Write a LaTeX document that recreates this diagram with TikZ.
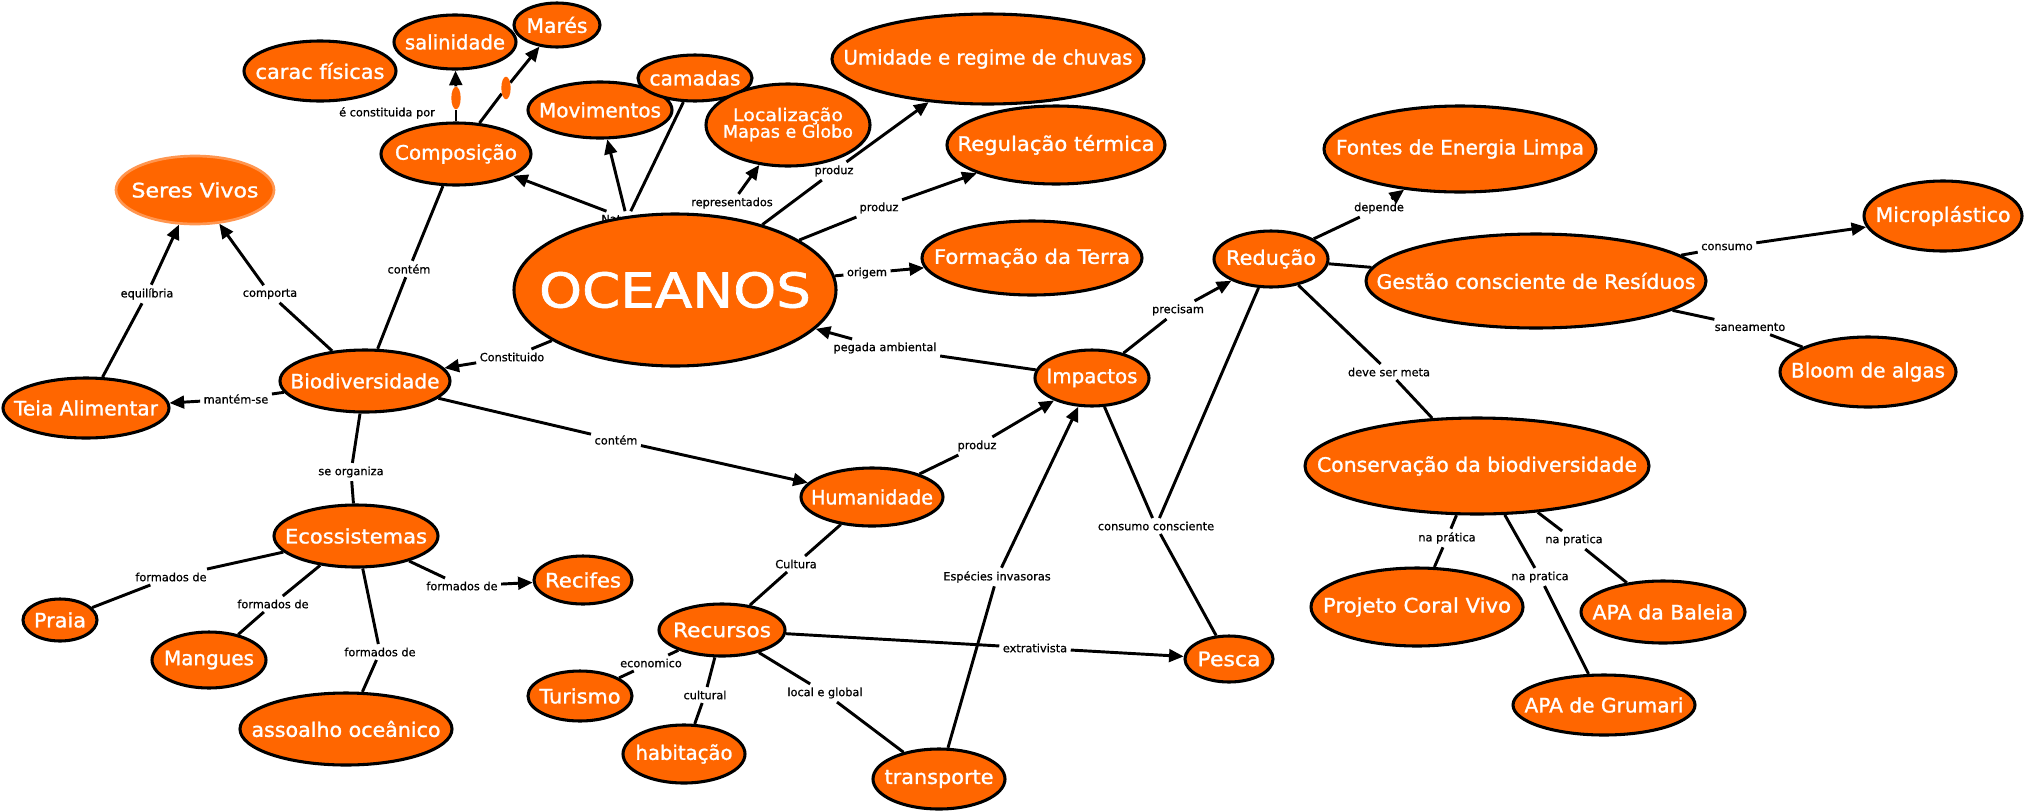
\documentclass[tikz,border=0pt]{standalone}
\usepackage{fontspec}
\setmainfont{DejaVu Sans}
\newfontfamily\nfont[BoldFont=DejaVu Sans, BoldFeatures={FakeBold=1.2}]{DejaVu Sans}
\newfontfamily\lfont[BoldFont=DejaVu Sans, BoldFeatures={FakeBold=0.8}]{DejaVu Sans}
\usetikzlibrary{shapes.geometric,arrows.meta}
\newlength\px \setlength\px{0.75pt}
\definecolor{orng}{RGB}{255,102,0}
\definecolor{lorng}{RGB}{255,150,80}
\newcommand\ctx[2]{\makebox[0pt]{\resizebox{#1\px}{\height}{#2}}}
\pgfdeclarelayer{back}
\pgfdeclarelayer{bg}
\pgfsetlayers{back,bg,main}
\begin{document}
\begin{tikzpicture}[x=0.75pt,y=-0.75pt,
  cn/.style n args={2}{ellipse, draw=black, line width=2.3pt, fill=orng, text=white,
    minimum width=#1*1.5pt-1.5pt, minimum height=#2*1.5pt-1.5pt, inner sep=0pt,
    font=\nfont\bfseries\fontsize{15}{18}\selectfont},
  lb/.style={font=\lfont\bfseries\fontsize{8.5}{10}\selectfont, inner sep=2.5pt, text=black},
  ln/.style={line width=2.2pt, draw=black},
  ar/.style={ln, -{Triangle[length=11pt,width=9.5pt]}},
  dot/.style={ellipse, fill=orng, minimum width=7pt, minimum height=17pt, inner sep=0pt}]
\begin{pgfonlayer}{back}
\fill[white] (0,0) rectangle (2027,811);
\end{pgfonlayer}
\useasboundingbox (0,0) rectangle (2027,811);
\begin{pgfonlayer}{bg}
\node[lb] (natu) at (627,219) {Natureza};
\end{pgfonlayer}
% concepts
\node[cn={77}{31}] (carac) at (320,71) {\ctx{129}{carac físicas}};
\node[cn={62}{28}] (sal) at (455,42) {\ctx{100}{salinidade}};
\node[cn={44}{23}] (mares) at (557,25) {\ctx{61}{Marés}};
\node[cn={76}{32}] (comp) at (456,154) {\ctx{122}{Composição}};
\node[cn={73}{29}] (mov) at (600,110) {\ctx{122}{Movimentos}};
\node[cn={58}{24}] (cam) at (695,78) {\ctx{91}{camadas}};
\node[cn={83}{42}] (loc) at (788,125) {\makebox[0pt]{\fontsize{13}{12}\selectfont\begin{tabular}{@{}c@{}}\resizebox{110\px}{\height}{Localização}\\[-1pt]\resizebox{130\px}{\height}{Mapas e Globo}\end{tabular}}};
\node[cn={157}{46}] (umid) at (988,59) {\ctx{289}{Umidade e regime de chuvas}};
\node[cn={110}{40}] (regul) at (1056,145) {\ctx{197}{Regulação térmica}};
\node[cn={162}{77}, font=\nfont\bfseries\fontsize{36}{40}\selectfont] (oce) at (675,290) {\ctx{272}{OCEANOS}};
\node[cn={111}{38}] (form) at (1032,258) {\ctx{196}{Formação da Terra}};
\node[cn={80}{35}, draw=lorng, line width=2pt] (seres) at (195,190) {\ctx{127}{Seres Vivos}};
\node[cn={84}{31}] (teia) at (86,408) {\ctx{144}{Teia Alimentar}};
\node[cn={86}{32}] (bio) at (365,381) {\ctx{149}{Biodiversidade}};
\node[cn={83}{32}] (eco) at (356,536) {\ctx{142}{Ecossistemas}};
\node[cn={38}{22}] (praia) at (60,620) {\ctx{52}{Praia}};
\node[cn={58}{29}] (mang) at (209,660) {\ctx{90}{Mangues}};
\node[cn={107}{37}] (assoa) at (346,729) {\ctx{189}{assoalho oceânico}};
\node[cn={50}{25}] (recif) at (583,580) {\ctx{76}{Recifes}};
\node[cn={53}{26}] (turis) at (580,696) {\ctx{81}{Turismo}};
\node[cn={64}{27}] (recur) at (722,630) {\ctx{98}{Recursos}};
\node[cn={62}{30}] (habit) at (684,754) {\ctx{97}{habitação}};
\node[cn={67}{31}] (transp) at (939,779) {\ctx{109}{transporte}};
\node[cn={72}{30}] (human) at (872,497) {\ctx{122}{Humanidade}};
\node[cn={58}{29}] (impac) at (1092,378) {\ctx{91}{Impactos}};
\node[cn={58}{29}] (reduc) at (1271,259) {\ctx{90}{Redução}};
\node[cn={137}{44}] (fontes) at (1460,149) {\ctx{248}{Fontes de Energia Limpa}};
\node[cn={171}{48}] (gestao) at (1536,281) {\ctx{319}{Gestão consciente de Resíduos}};
\node[cn={80}{36}] (micro) at (1943,216) {\ctx{135}{Microplástico}};
\node[cn={89}{36}] (bloom) at (1868,372) {\ctx{154}{Bloom de algas}};
\node[cn={173}{49}] (conserv) at (1477,466) {\ctx{320}{Conservação da biodiversidade}};
\node[cn={107}{40}] (coral) at (1417,607) {\ctx{188}{Projeto Coral Vivo}};
\node[cn={83}{32}] (baleia) at (1663,612) {\ctx{141}{APA da Baleia}};
\node[cn={92}{31}] (grumari) at (1604,705) {\ctx{159}{APA de Grumari}};
\node[cn={45}{24}] (pesca) at (1229,659) {\ctx{63}{Pesca}};
% empty link markers
\node[dot] (e1) at (456,98) {};
\node[dot] (e2) at (506,88) {};
% linking phrases
\node[lb] (econst) at (387,113) {é constituida por};
\node[lb] (repr) at (732,203) {representados};
\node[lb] (prod1) at (834,171) {produz};
\node[lb] (prod2) at (879,208) {produz};
\node[lb] (origem) at (867,273) {origem};
\node[lb] (pegada) at (885,348) {pegada ambiental};
\node[lb] (constit) at (512,357) {Constituido};
\node[lb] (contem1) at (409,269) {contém};
\node[lb] (comporta) at (270,294) {comporta};
\node[lb] (equil) at (147,294) {equilíbria};
\node[lb] (mantem) at (236,399) {mantém-se};
\node[lb] (seorg) at (351,472) {se organiza};
\node[lb] (contem2) at (616,440) {contém};
\node[lb] (fd1) at (171,577) {formados de};
\node[lb] (fd2) at (273,604) {formados de};
\node[lb] (fd3) at (380,652) {formados de};
\node[lb] (fd4) at (462,586) {formados de};
\node[lb] (prod3) at (977,446) {produz};
\node[lb] (cultura) at (796,564) {Cultura};
\node[lb] (econ) at (651,663) {economico};
\node[lb] (cultural) at (705,695) {cultural};
\node[lb] (localg) at (825,693) {local e global};
\node[lb] (extrat) at (1035,648) {extrativista};
\node[lb] (especies) at (997,577) {Espécies invasoras};
\node[lb] (precisam) at (1178,310) {precisam};
\node[lb] (consumoc) at (1156,526) {consumo consciente};
\node[lb] (depende) at (1379,208) {depende};
\node[lb] (consumo) at (1727,247) {consumo};
\node[lb] (saneam) at (1750,327) {saneamento};
\node[lb] (devemeta) at (1389,372) {deve ser meta};
\node[lb] (napr1) at (1447,538) {na prática};
\node[lb] (napr2) at (1540,577) {na pratica};
\node[lb] (napr3) at (1574,540) {na pratica};
% connectors
\begin{pgfonlayer}{bg}
\draw[ln] (comp) -- (e1); \draw[ar] (e1) -- (sal);
\draw[ln] (comp) -- (e2); \draw[ar] (e2) -- (mares);
\draw[ar] (natu) -- (comp);
\draw[ar] (natu) -- (mov);
\draw[ln] (natu) -- (cam);
\draw[ar] (repr) -- (loc);
\draw[ln] (oce) -- (prod1); \draw[ar] (prod1) -- (umid);
\draw[ln] (oce) -- (prod2); \draw[ar] (prod2) -- (regul);
\draw[ln] (oce) -- (origem); \draw[ar] (origem) -- (form);
\draw[ln] (impac) -- (pegada); \draw[ar] (pegada) -- (oce);
\draw[ln] (oce) -- (constit); \draw[ar] (constit) -- (bio);
\draw[ln] (comp) -- (contem1); \draw[ln] (contem1) -- (bio);
\draw[ln] (bio) -- (comporta); \draw[ar] (comporta) -- (seres);
\draw[ln] (teia) -- (equil); \draw[ar] (equil) -- (seres);
\draw[ln] (bio) -- (mantem); \draw[ar] (mantem) -- (teia);
\draw[ln] (bio) -- (seorg); \draw[ln] (seorg) -- (eco);
\draw[ln] (bio) -- (contem2); \draw[ar] (contem2) -- (human);
\draw[ln] (eco) -- (fd1); \draw[ln] (fd1) -- (praia);
\draw[ln] (eco) -- (fd2); \draw[ln] (fd2) -- (mang);
\draw[ln] (eco) -- (fd3); \draw[ln] (fd3) -- (assoa);
\draw[ln] (eco) -- (fd4); \draw[ar] (fd4) -- (recif);
\draw[ln] (human) -- (prod3); \draw[ar] (prod3) -- (impac);
\draw[ln] (human) -- (cultura); \draw[ln] (cultura) -- (recur);
\draw[ln] (recur) -- (econ); \draw[ln] (econ) -- (turis);
\draw[ln] (recur) -- (cultural); \draw[ln] (cultural) -- (habit);
\draw[ln] (recur) -- (localg); \draw[ln] (localg) -- (transp);
\draw[ln] (recur) -- (extrat); \draw[ar] (extrat) -- (pesca);
\draw[ln] (transp) -- (especies); \draw[ar] (especies) -- (impac);
\draw[ln] (impac) -- (precisam); \draw[ar] (precisam) -- (reduc);
\draw[ln] (impac) -- (consumoc); \draw[ln] (reduc) -- (consumoc); \draw[ln] (consumoc) -- (pesca);
\draw[ln] (reduc) -- (depende); \draw[ar] (depende) -- (fontes);
\draw[ln] (reduc) -- (gestao);
\draw[ln] (gestao) -- (consumo); \draw[ar] (consumo) -- (micro);
\draw[ln] (gestao) -- (saneam); \draw[ln] (saneam) -- (bloom);
\draw[ln] (reduc) -- (devemeta); \draw[ln] (devemeta) -- (conserv);
\draw[ln] (conserv) -- (napr1); \draw[ln] (napr1) -- (coral);
\draw[ln] (conserv) -- (napr2); \draw[ln] (napr2) -- (grumari);
\draw[ln] (conserv) -- (napr3); \draw[ln] (napr3) -- (baleia);
\end{pgfonlayer}
\end{tikzpicture}
\end{document}
